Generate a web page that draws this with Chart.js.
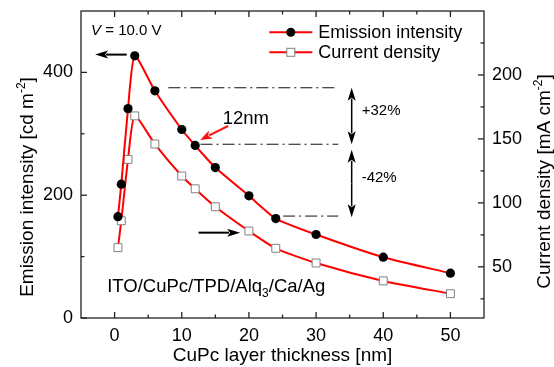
<!DOCTYPE html>
<html><head><meta charset="utf-8">
<script src="https://cdn.jsdelivr.net/npm/chart.js@4/dist/chart.umd.min.js"></script>
<style>html,body{margin:0;padding:0;background:#fff;}#wrap{width:554px;height:367px;position:relative;}</style>
</head><body><div id="wrap"><canvas id="c" width="554" height="367"></canvas></div>
<script>
// ---- data ----
const thickness = [0.5, 1, 2, 3, 6, 10, 12, 15, 20, 24, 30, 40, 50];
const emission = [165, 218, 341, 427, 370, 307, 281, 245, 199, 162, 136, 99, 73];
const currentDensity = [65, 86, 134, 168, 146, 121, 111, 97, 78, 64.5, 53, 39, 29];
const xTicks = [0, 10, 20, 30, 40, 50];
const xMinorTicks = [5, 15, 25, 35, 45];
const leftTicks = [0, 200, 400];
const leftMinorTicks = [100, 300];
const rightTicks = [50, 100, 150, 200];
const rightMinorTicks = [25, 75, 125, 175, 225];
const seriesNames = ['Emission intensity', 'Current density'];

const FONT = "'Liberation Sans', Arial, Helvetica, sans-serif";
const f = (size, style) => (style ? style + ' ' : '') + size + 'px ' + FONT;

function drawRich(ctx, parts, x, y, align) {
  let w = 0;
  for (const p of parts) { ctx.font = f(p.size, p.style); p.w = ctx.measureText(p.t).width; w += p.w; }
  let cx = align === 'center' ? x - w / 2 : (align === 'right' ? x - w : x);
  ctx.textAlign = 'left'; ctx.textBaseline = 'alphabetic';
  for (const p of parts) { ctx.font = f(p.size, p.style); ctx.fillText(p.t, cx, y + (p.dy || 0)); cx += p.w; }
}
function arrow(ctx, x1, y1, x2, y2, color, lw, hl, hw) {
  const ang = Math.atan2(y2 - y1, x2 - x1);
  const bx = x2 - hl * Math.cos(ang), by = y2 - hl * Math.sin(ang);
  ctx.strokeStyle = color; ctx.fillStyle = color; ctx.lineWidth = lw;
  ctx.beginPath(); ctx.moveTo(x1, y1); ctx.lineTo(bx + 2 * Math.cos(ang), by + 2 * Math.sin(ang)); ctx.stroke();
  ctx.beginPath(); ctx.moveTo(x2, y2);
  ctx.lineTo(bx + hw / 2 * Math.sin(ang), by - hw / 2 * Math.cos(ang));
  ctx.lineTo(bx + 3 * Math.cos(ang), by + 3 * Math.sin(ang));
  ctx.lineTo(bx - hw / 2 * Math.sin(ang), by + hw / 2 * Math.cos(ang));
  ctx.closePath(); ctx.fill();
}

const decor = {
  id: 'decor',
  beforeDatasetsDraw(chart) {
    const { ctx, chartArea: a, scales } = chart;
    ctx.save();
    ctx.strokeStyle = '#222'; ctx.lineWidth = 1.3;
    ctx.strokeRect(a.left, a.top, a.right - a.left, a.bottom - a.top);
    const tick = (x1, y1, x2, y2) => { ctx.beginPath(); ctx.moveTo(x1, y1); ctx.lineTo(x2, y2); ctx.stroke(); };
    const maj = 6, min = 3.5;
    xTicks.forEach(v => { const p = scales.x.getPixelForValue(v); tick(p, a.bottom, p, a.bottom - maj); tick(p, a.top, p, a.top + maj); });
    xMinorTicks.forEach(v => { const p = scales.x.getPixelForValue(v); tick(p, a.bottom, p, a.bottom - min); tick(p, a.top, p, a.top + min); });
    leftTicks.forEach(v => { const p = scales.y.getPixelForValue(v); tick(a.left, p, a.left + maj, p); });
    leftMinorTicks.forEach(v => { const p = scales.y.getPixelForValue(v); tick(a.left, p, a.left + min, p); });
    rightTicks.forEach(v => { const p = scales.y2.getPixelForValue(v); tick(a.right, p, a.right - maj, p); });
    rightMinorTicks.forEach(v => { const p = scales.y2.getPixelForValue(v); tick(a.right, p, a.right - min, p); });
    ctx.restore();
  },
  afterDatasetsDraw(chart) {
    const { ctx, chartArea: a, scales } = chart;
    const X = v => scales.x.getPixelForValue(v), Y = v => scales.y.getPixelForValue(v);
    ctx.save();
    // dash-dot guide lines
    ctx.strokeStyle = '#111'; ctx.lineWidth = 1; ctx.setLineDash([12, 4, 2, 4]);
    [[8, 33.3, 375], [12.8, 33.3, 283], [25.1, 33.3, 166]].forEach(([x1, x2, yv]) => {
      ctx.beginPath(); ctx.moveTo(X(x1), Y(yv)); ctx.lineTo(X(x2), Y(yv)); ctx.stroke();
    });
    ctx.setLineDash([]);
    // double arrows
    const ax = X(35.3);
    const dbl = (y1, y2) => {
      const m = (Y(y1) + Y(y2)) / 2;
      arrow(ctx, ax, m, ax, Y(y1), '#000', 1.5, 13, 8);
      arrow(ctx, ax, m, ax, Y(y2), '#000', 1.5, 13, 8);
    };
    dbl(375, 283); dbl(274, 164);
    ctx.fillStyle = '#000';
    drawRich(ctx, [{ t: '+32%', size: 15 }], ax + 10, 115, 'left');
    drawRich(ctx, [{ t: '-42%', size: 15 }], ax + 10, 181.5, 'left');
    // 12nm label with red arrow
    drawRich(ctx, [{ t: '12nm', size: 18.5 }], X(16.1), 124, 'left');
    arrow(ctx, X(16.9), Y(312.7), X(12.75), Y(290), '#ff1010', 2, 12, 9);
    // axis-pointing arrows
    arrow(ctx, X(1.8), Y(429), X(-2.9), Y(429), '#000', 2, 13, 8);
    arrow(ctx, X(12.5), Y(139), X(18.7), Y(139), '#000', 2, 13, 8);
    ctx.fillStyle = '#000';
    drawRich(ctx, [{ t: 'V', size: 15, style: 'italic' }, { t: ' = 10.0 V', size: 15 }], X(-3.5), 35, 'left');
    drawRich(ctx, [{ t: 'ITO/CuPc/TPD/Alq', size: 18.5 }, { t: '3', size: 12, dy: 5 }, { t: '/Ca/Ag', size: 18.5 }], X(-1.1), 291.5, 'left');
    // legend
    const lx1 = a.right - 214.7, lx2 = a.right - 171.7, mx = (lx1 + lx2) / 2, tx = a.right - 165.7;
    const rows = [32.3, 52.3];
    rows.forEach((ry, i) => {
      ctx.strokeStyle = '#ff0000'; ctx.lineWidth = 2;
      ctx.beginPath(); ctx.moveTo(lx1, ry); ctx.lineTo(lx2, ry); ctx.stroke();
      if (i === 0) {
        ctx.fillStyle = '#000'; ctx.beginPath(); ctx.arc(mx, ry, 4.5, 0, Math.PI * 2); ctx.fill();
      } else {
        ctx.fillStyle = '#fff'; ctx.fillRect(mx - 4, ry - 4, 8, 8);
        ctx.strokeStyle = '#808080'; ctx.lineWidth = 1; ctx.strokeRect(mx - 4, ry - 4, 8, 8);
      }
      ctx.fillStyle = '#000';
      drawRich(ctx, [{ t: seriesNames[i], size: 18 }], tx, ry + 5.5, 'left');
    });
    ctx.restore();
  },
  afterDraw(chart) {
    const { ctx } = chart;
    ctx.save(); ctx.fillStyle = '#000';
    ctx.save(); ctx.translate(33, 187); ctx.rotate(-Math.PI / 2);
    drawRich(ctx, [{ t: 'Emission intensity [cd m', size: 19 }, { t: '-2', size: 12, dy: -8 }, { t: ']', size: 19 }], 0, 0, 'center');
    ctx.restore();
    ctx.save(); ctx.translate(550, 181.5); ctx.rotate(-Math.PI / 2);
    drawRich(ctx, [{ t: 'Current density [mA cm', size: 19 }, { t: '-2', size: 12, dy: -8 }, { t: ']', size: 19 }], 0, 0, 'center');
    ctx.restore();
    drawRich(ctx, [{ t: 'CuPc layer thickness [nm]', size: 19 }], 282.5, 361, 'center');
    ctx.restore();
  }
};

const tickFont = { family: FONT, size: 18 };
const noPad = s => { s.paddingTop = 0; s.paddingBottom = 0; s.paddingLeft = 0; s.paddingRight = 0; };
new Chart(document.getElementById('c'), {
  type: 'line',
  data: {
    datasets: [
      {
        label: seriesNames[0], yAxisID: 'y',
        data: thickness.map((t, i) => ({ x: t, y: emission[i] })),
        borderColor: '#ff0000', borderWidth: 2, tension: 0.2,
        pointStyle: 'circle', pointRadius: 4.6, pointBackgroundColor: '#000', pointBorderColor: '#000', pointBorderWidth: 0
      },
      {
        label: seriesNames[1], yAxisID: 'y2',
        data: thickness.map((t, i) => ({ x: t, y: currentDensity[i] })),
        borderColor: '#ff0000', borderWidth: 2, tension: 0.2,
        pointStyle: 'rect', pointRadius: 5.6, pointBackgroundColor: '#fff', pointBorderColor: '#808080', pointBorderWidth: 1
      }
    ]
  },
  options: {
    responsive: false, animation: false, devicePixelRatio: 1,
    layout: { padding: { top: 11, left: 0, right: 0, bottom: 0 } },
    plugins: { legend: { display: false }, tooltip: { enabled: false } },
    scales: {
      x: {
        type: 'linear', position: 'bottom', min: -5, max: 55,
        grid: { display: false, drawTicks: false }, border: { display: false },
        ticks: { font: tickFont, color: '#000', padding: 7, maxRotation: 0 },
        afterBuildTicks: s => { s.ticks = xTicks.map(v => ({ value: v })); },
        afterFit: s => { s.height = 49; noPad(s); }
      },
      y: {
        type: 'linear', position: 'left', min: 0, max: 500,
        grid: { display: false, drawTicks: false }, border: { display: false },
        ticks: { font: tickFont, color: '#000', padding: 8 },
        afterBuildTicks: s => { s.ticks = leftTicks.map(v => ({ value: v })); },
        afterFit: s => { s.width = 81; noPad(s); }
      },
      y2: {
        type: 'linear', position: 'right', min: 10, max: 250,
        grid: { display: false, drawTicks: false }, border: { display: false },
        ticks: { font: tickFont, color: '#000', padding: 8 },
        afterBuildTicks: s => { s.ticks = rightTicks.map(v => ({ value: v })); },
        afterFit: s => { s.width = 70; noPad(s); }
      }
    }
  },
  plugins: [decor]
});
</script></body></html>
